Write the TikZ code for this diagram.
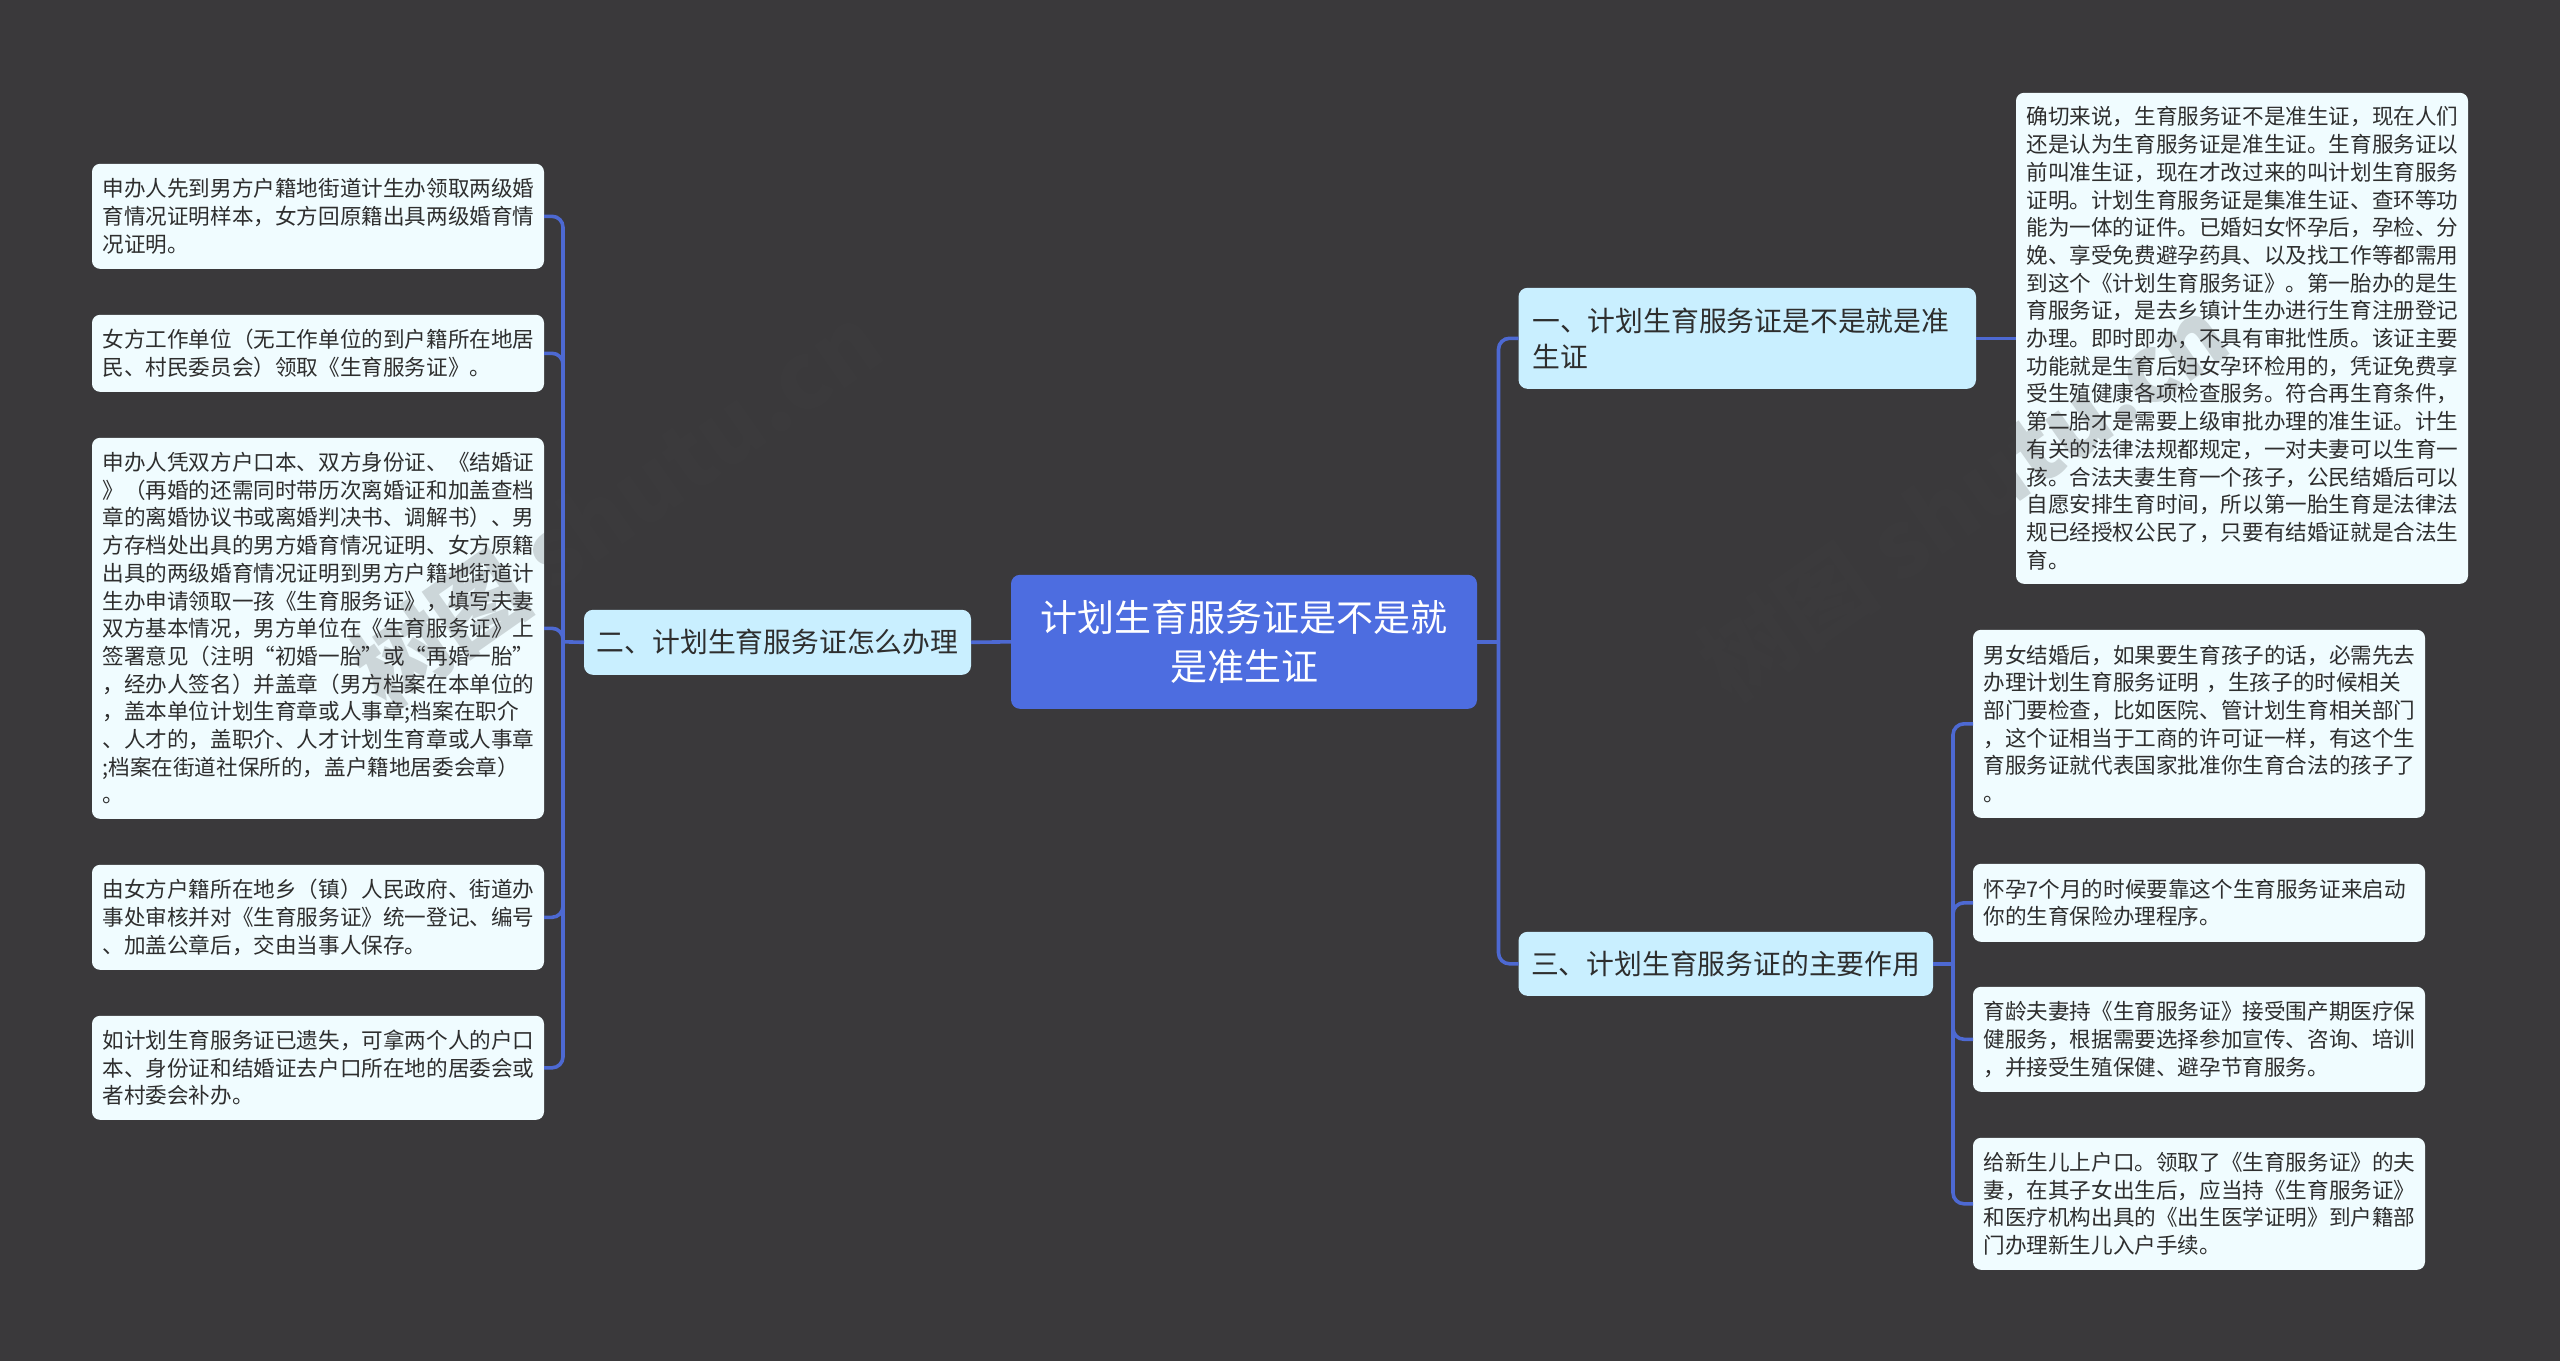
\documentclass[tikz,border=0pt]{standalone}
\usepackage{fontspec}
\setmainfont{Noto Sans CJK SC}
\definecolor{bgc}{HTML}{3A393B}
\definecolor{rootc}{HTML}{4D6DE0}
\definecolor{branchc}{HTML}{C9EFFF}
\definecolor{leafc}{HTML}{F0FCFF}
\definecolor{linec}{HTML}{4D69D2}
\definecolor{txtc}{HTML}{2E2E2E}
\definecolor{markc}{HTML}{404042}
\newcommand{\boxnode}[7]{%
  \pgfmathsetmacro{\bcx}{(#3+#5)/2}%
  \pgfmathsetmacro{\bcy}{-(#4+#6)/2-0.8}%
  \pgfmathsetmacro{\bw}{#5-#3}%
  \pgfmathsetmacro{\bh}{#6-#4}%
  \node[#1,minimum width=\bw pt,minimum height=\bh pt] (#2) at (\bcx pt,\bcy pt) {#7};}
\tikzset{
  every node/.style={inner sep=0pt,outer sep=0pt},
  leafbox/.style={rectangle,rounded corners=8pt,fill=leafc,text=txtc,text width=431pt,align=left,font=\fontsize{21.6pt}{27.7pt}\selectfont},
  branchbox/.style={rectangle,rounded corners=9pt,fill=branchc,text=txtc,align=left,font=\fontsize{27.8pt}{36pt}\selectfont},
  rootbox/.style={rectangle,rounded corners=9pt,fill=rootc,text=white,align=center,font=\fontsize{37pt}{48.5pt}\selectfont},
  link/.style={draw=linec,line width=3.6pt,rounded corners=11pt},
  markbox/.style={rotate=35,text=markc,opacity=0.2,font=\fontsize{92pt}{92pt}\selectfont\bfseries}
}
\begin{document}
\begin{tikzpicture}[x=1pt,y=1pt]
\useasboundingbox (0,0) rectangle (2560,-1361);
\fill[bgc] (0,0) rectangle (2560,-1361);
\coordinate (jl) at (563,-641.8);
\coordinate (jr) at (1498.5,-641.8);
\coordinate (jt) at (1953,-963.8);
\boxnode{rootbox}{root}{1011}{574}{1477}{708}{计划生育服务证是不是就\\是准生证}
\boxnode{branchbox,text width=430pt}{b1}{1518.5}{287}{1976}{388}{一、计划生育服务证是不是就是准\\生证}
\boxnode{branchbox}{b2}{584}{609}{971}{674}{二、计划生育服务证怎么办理}
\boxnode{branchbox}{b3}{1518.5}{931}{1933}{995}{三、计划生育服务证的主要作用}
\boxnode{leafbox}{l1}{92}{163}{544}{268}{申办人先到男方户籍地街道计生办领取两级婚\\育情况证明样本，女方回原籍出具两级婚育情\\况证明。}
\boxnode{leafbox}{l2}{92}{314}{544}{391}{女方工作单位（无工作单位的到户籍所在地居\\民、村民委员会）领取《生育服务证》。}
\boxnode{leafbox}{l3}{92}{437}{544}{818}{申办人凭双方户口本、双方身份证、《结婚证\\》（再婚的还需同时带历次离婚证和加盖查档\\章的离婚协议书或离婚判决书、调解书）、男\\方存档处出具的男方婚育情况证明、女方原籍\\出具的两级婚育情况证明到男方户籍地街道计\\生办申请领取一孩《生育服务证》，填写夫妻\\双方基本情况，男方单位在《生育服务证》上\\签署意见（注明“初婚一胎”或“再婚一胎”\\，经办人签名）并盖章（男方档案在本单位的\\，盖本单位计划生育章或人事章;档案在职介\\、人才的，盖职介、人才计划生育章或人事章\\;档案在街道社保所的，盖户籍地居委会章）\\。}
\boxnode{leafbox}{l4}{92}{864}{544}{969}{由女方户籍所在地乡（镇）人民政府、街道办\\事处审核并对《生育服务证》统一登记、编号\\、加盖公章后，交由当事人保存。}
\boxnode{leafbox}{l5}{92}{1015}{544}{1119}{如计划生育服务证已遗失，可拿两个人的户口\\本、身份证和结婚证去户口所在地的居委会或\\者村委会补办。}
\boxnode{leafbox}{r0}{2016}{92}{2468}{583}{确切来说，生育服务证不是准生证，现在人们\\还是认为生育服务证是准生证。生育服务证以\\前叫准生证，现在才改过来的叫计划生育服务\\证明。计划生育服务证是集准生证、查环等功\\能为一体的证件。已婚妇女怀孕后，孕检、分\\娩、享受免费避孕药具、以及找工作等都需用\\到这个《计划生育服务证》。第一胎办的是生\\育服务证，是去乡镇计生办进行生育注册登记\\办理。即时即办，不具有审批性质。该证主要\\功能就是生育后妇女孕环检用的，凭证免费享\\受生殖健康各项检查服务。符合再生育条件，\\第二胎才是需要上级审批办理的准生证。计生\\有关的法律法规都规定，一对夫妻可以生育一\\孩。合法夫妻生育一个孩子，公民结婚后可以\\自愿安排生育时间，所以第一胎生育是法律法\\规已经授权公民了，只要有结婚证就是合法生\\育。}
\boxnode{leafbox}{r1}{1973}{629}{2425}{817}{男女结婚后，如果要生育孩子的话，必需先去\\办理计划生育服务证明 ，生孩子的时候相关\\部门要检查，比如医院、管计划生育相关部门\\，这个证相当于工商的许可证一样，有这个生\\育服务证就代表国家批准你生育合法的孩子了\\。}
\boxnode{leafbox}{r2}{1973}{863}{2425}{941}{怀孕7个月的时候要靠这个生育服务证来启动\\你的生育保险办理程序。}
\boxnode{leafbox}{r3}{1973}{986}{2425}{1091}{育龄夫妻持《生育服务证》接受围产期医疗保\\健服务，根据需要选择参加宣传、咨询、培训\\，并接受生殖保健、避孕节育服务。}
\boxnode{leafbox}{r4}{1973}{1137}{2425}{1269}{给新生儿上户口。领取了《生育服务证》的夫\\妻，在其子女出生后，应当持《生育服务证》\\和医疗机构出具的《出生医学证明》到户籍部\\门办理新生儿入户手续。}
\node[markbox,anchor=west] (wm1) at (365,-682) {树图 shutu.cn};
\node[markbox,anchor=east] (wm2) at (2215,-322) {树图 shutu.cn};
\draw[link] (root.west) -- (b2.east);
\draw[link] (b2.west) -- (jl);
\foreach \n in {l1,l2,l3,l4,l5} \draw[link] (jl) |- (\n.east);
\draw[link] (root.east) -- (jr);
\draw[link] (jr) |- (b1.west);
\draw[link] (jr) |- (b3.west);
\draw[link] (b1.east) -- (r0.west);
\draw[link] (b3.east) -- (jt);
\foreach \n in {r1,r2,r3,r4} \draw[link] (jt) |- (\n.west);
\end{tikzpicture}
\end{document}
